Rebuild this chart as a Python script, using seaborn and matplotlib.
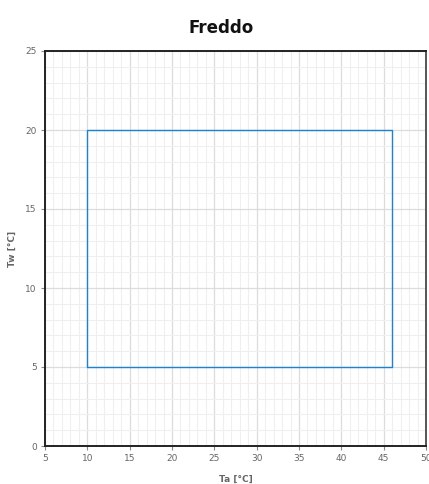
import matplotlib
matplotlib.use("Agg")
import matplotlib.pyplot as plt
import seaborn as sns
import pandas as pd
from matplotlib.ticker import MultipleLocator

# Operating envelope (cooling mode): outdoor temperature vs water temperature
ta_vals = [10, 46, 46, 10, 10]
tw_vals = [5, 5, 20, 20, 5]
x_ticks = [5, 10, 15, 20, 25, 30, 35, 40, 45, 50]
y_ticks = [0, 5, 10, 15, 20, 25]

sns.set_style("white")
plt.rcParams['font.family'] = ['DejaVu Sans']

fig = plt.figure(figsize=(4.29, 4.84), dpi=100)
ax = fig.add_axes([45 / 429, 1 - 446 / 484, 381 / 429, 395 / 484])

df = pd.DataFrame({"Ta": ta_vals, "Tw": tw_vals})
sns.lineplot(data=df, x="Ta", y="Tw", sort=False, estimator=None,
             color="#1e82d2", linewidth=1.0, ax=ax, zorder=3)

ax.set_xlim(5, 50)
ax.set_ylim(0, 25)
ax.set_xticks(x_ticks)
ax.set_yticks(y_ticks)
ax.xaxis.set_minor_locator(MultipleLocator(1))
ax.yaxis.set_minor_locator(MultipleLocator(1))
ax.grid(which="major", color="#dcdcdc", linewidth=0.9)
ax.grid(which="minor", color="#efefef", linewidth=0.8)
ax.set_axisbelow(True)

for side in ["left", "bottom", "top", "right"]:
    ax.spines[side].set_color("#222222")
    ax.spines[side].set_linewidth(1.4)
ax.spines["right"].set_color("#555555")

ax.tick_params(axis="both", which="major", direction="out", length=3, width=0.8,
               color="#888888", labelsize=6.5, labelcolor="#666666", pad=3)
ax.tick_params(which="minor", length=0)
ax.tick_params(left=True, bottom=True)

ax.set_xlabel("Ta [°C]", fontsize=6.5, fontweight="bold", color="#666666", labelpad=8)
ax.set_ylabel("Tw [°C]", fontsize=6.5, fontweight="bold", color="#666666", labelpad=6)

fig.text(221 / 429, 1 - 28 / 484, "Freddo", ha="center", va="center",
         fontsize=12, fontweight="bold", color="#111111")

fig.savefig("out.png", dpi=100)
